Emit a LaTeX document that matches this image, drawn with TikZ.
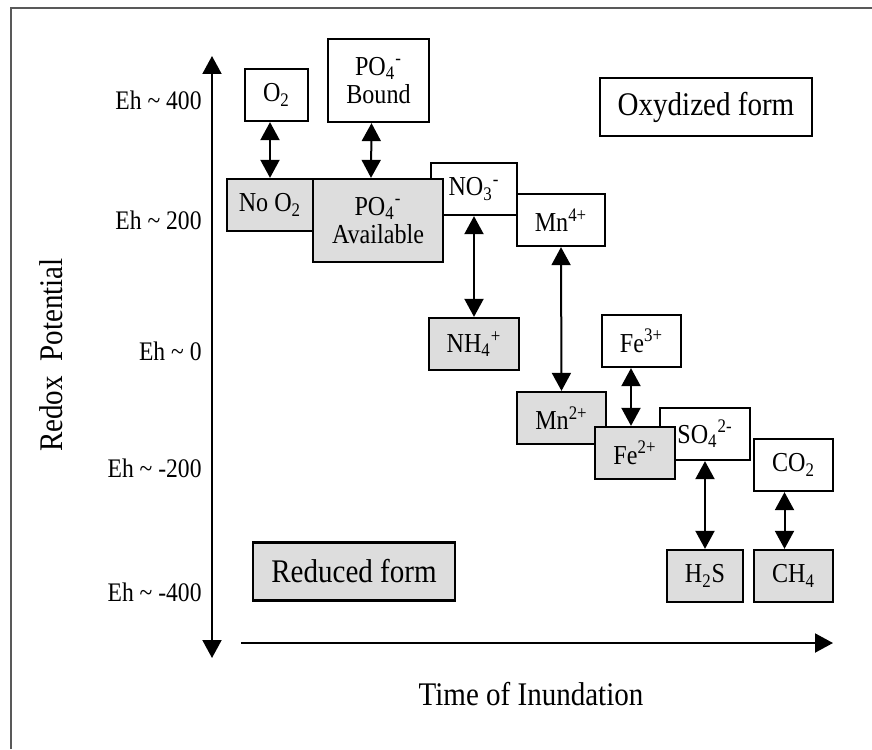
\documentclass[tikz,border=0pt]{standalone}
\usepackage{fontspec}
\setmainfont[FakeStretch=0.88]{Liberation Serif}
\usetikzlibrary{arrows.meta,calc}
\definecolor{redgray}{RGB}{221,221,221}

\begin{document}
\begin{tikzpicture}[x=0.5pt,y=-0.5pt,
  >={Triangle[width=9.5pt,length=9pt]},
  species/.style={draw,line width=1.15pt,inner sep=0pt,align=center,
    font=\fontsize{13.7}{14}\selectfont,minimum height=26pt},
  oxform/.style={species,fill=white},
  redform/.style={species,fill=redgray},
  legendbox/.style={draw,line width=1.15pt,inner sep=0pt,
    font=\fontsize{16.5}{18}\selectfont,minimum height=29pt},
  ehlabel/.style={anchor=base east,inner sep=0pt,font=\fontsize{13.4}{15}\selectfont},
  redox/.style={line width=1pt,<->}]

  \useasboundingbox (0,0) rectangle (872,749);
  % frame: only its top and left edges are in the picture
  \draw[black!65,line width=0.7pt] (11,749) -- (11,8) -- (872,8);

  % axes
  \coordinate (ytop) at (212,56);
  \coordinate (ybot) at (212,658);
  \coordinate (xleft) at (241,643);
  \coordinate (xright) at (833,643);
  \draw[line width=1pt,<->] (ytop) -- (ybot);
  \draw[line width=1pt,->] (xleft) -- (xright);

  \foreach \eh/\yb [count=\i] in {400/110,200/229,0/360,-200/477,-400/601}
    \node[ehlabel] (eh\i) at (202,\yb) {Eh \textasciitilde\ \eh};

  \node[font=\fontsize{16.5}{18}\selectfont,rotate=90,anchor=base] (potential) at (62,355) {Redox\ \ Potential};
  \node[font=\fontsize{16.5}{18}\selectfont,anchor=base] (time) at (531,705) {Time of Inundation};

  % species, back to front
  \node[oxform,minimum width=31.5pt] (o2) at (276.5,95) {O\textsubscript{2}};
  \node[oxform,minimum width=50.5pt,minimum height=41.5pt] (po4b) at (378.5,80.5) {PO\textsubscript{4}\textsuperscript{-}\\Bound};
  \node[redform,minimum width=43pt] (noo2) at (270,205) {No O\textsubscript{2}};
  \node[oxform,minimum width=43pt] (no3) at (474,189) {NO\textsubscript{3}\textsuperscript{-}};
  \node[redform,minimum width=65pt,minimum height=41.5pt] (po4a) at (378,220.5) {PO\textsubscript{4}\textsuperscript{-}\\Available};
  \node[oxform,minimum width=44pt] (mn4) at (561,220) {Mn\textsuperscript{4+}};
  \node[redform,minimum width=45pt] (nh4) at (474,344) {NH\textsubscript{4}\textsuperscript{+}};
  \node[oxform,minimum width=39.5pt] (fe3) at (641.5,341) {Fe\textsuperscript{3+}};
  \node[redform,minimum width=44.5pt] (mn2) at (561.5,418) {Mn\textsuperscript{2+}};
  \node[oxform,minimum width=45pt] (so4) at (705,434) {SO\textsubscript{4}\textsuperscript{2-}};
  \node[redform,minimum width=40pt] (fe2) at (635,453) {Fe\textsuperscript{2+}};
  \node[oxform,minimum width=39.5pt] (co2) at (793.5,465) {CO\textsubscript{2}};
  \node[redform,minimum width=38pt] (h2s) at (705,576) {H\textsubscript{2}S};
  \node[redform,minimum width=39.5pt] (ch4) at (793.5,576) {CH\textsubscript{4}};

  \node[legendbox,fill=white,minimum width=106pt] (oxy) at (706,107) {Oxydized form};
  \node[legendbox,fill=redgray,minimum width=101pt] (red) at (354,571.5) {Reduced form};

  % redox couples
  \draw[redox] (o2.south -| noo2.north) -- (noo2.north);
  \draw[redox] ($(po4b.south)+(-7,0)$) -- ($(po4a.north)+(-7,0)$);
  \draw[redox] (no3.south) -- (nh4.north);
  \draw[redox] (mn4.south) -- (mn2.north);
  \draw[redox] ($(fe3.south -| fe2.north)+(-4,0)$) -- ($(fe2.north)+(-4,0)$);
  \draw[redox] (so4.south) -- (h2s.north);
  \draw[redox] ($(co2.south)+(-9,0)$) -- ($(ch4.north)+(-9,0)$);
\end{tikzpicture}
\end{document}
